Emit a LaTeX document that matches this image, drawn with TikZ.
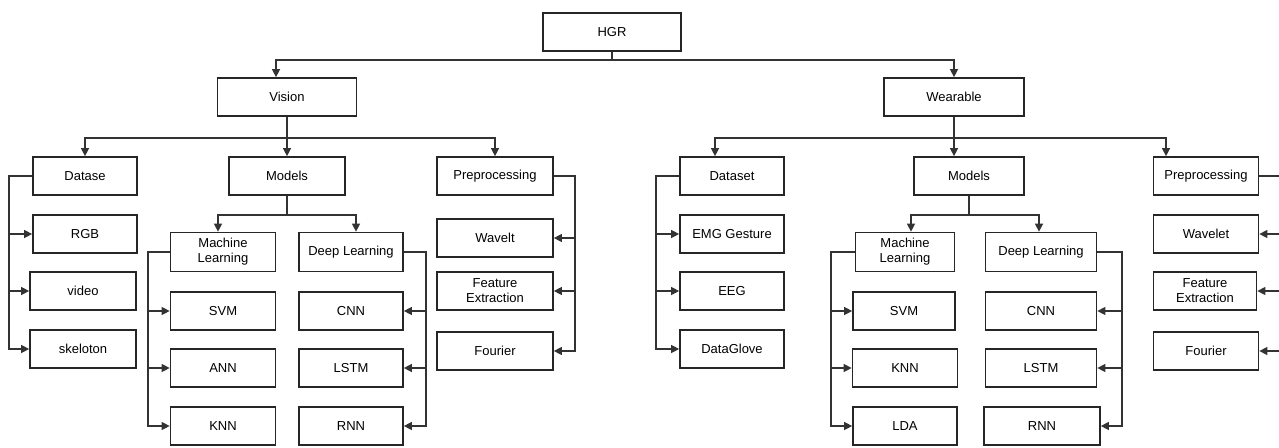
\documentclass[tikz,border=0pt]{standalone}
\usepackage{fontspec}
\setmainfont{Liberation Sans}
\usepackage{xcolor}
\usetikzlibrary{positioning, arrows.meta, calc}
\definecolor{boxline}{HTML}{262626}
\definecolor{wireline}{HTML}{333333}

\tikzset{
  box/.style={draw=boxline, line width=1.7pt, fill=white, minimum height=38pt,
              inner sep=2pt, align=center, font=\fontsize{13}{15}\selectfont},
  wire/.style={draw=wireline, line width=1.3pt},
  arr/.style={wire, -{Triangle[length=8pt, width=8pt]}}
}

\begin{document}
\begin{tikzpicture}[x=1pt, y=-1pt]
  \useasboundingbox (0,0) rectangle (1279,447);
  \fill[white] (0,0) rectangle (1279,447);
  \clip (0,0) rectangle (1279,447);

  % top levels
  \node[box, minimum width=138pt] (hgr) at (612,32) {HGR};
  \node[box, minimum width=139pt] (vision) at (287,97) {Vision};
  \node[box, minimum width=140pt] (wear) at (954,97) {Wearable};

  % vision branch
  \node[box, minimum width=104pt] (vdata) at (85,176) {Datase};
  \node[box, minimum width=116pt] (vmod) at (287,176) {Models};
  \node[box, minimum width=116pt] (vpre) at (495,176) {Preprocessing};
  \node[box, minimum width=104pt] (rgb) at (85,234) {RGB};
  \node[box, minimum width=106pt] (video) at (83,291) {video};
  \node[box, minimum width=106pt] (skel) at (83,349) {skeloton};
  \node[box, minimum width=105pt, minimum height=39pt] (vml) at (223,252) {Machine\\Learning};
  \node[box, minimum width=104pt, minimum height=39pt] (vdl) at (351,252) {Deep Learning};
  \node[box, minimum width=105pt] (vsvm) at (223,311) {SVM};
  \node[box, minimum width=105pt] (vann) at (223,368) {ANN};
  \node[box, minimum width=105pt] (vknn) at (223,426) {KNN};
  \node[box, minimum width=104pt] (vcnn) at (351,311) {CNN};
  \node[box, minimum width=104pt] (vlstm) at (351,368) {LSTM};
  \node[box, minimum width=104pt] (vrnn) at (351,426) {RNN};
  \node[box, minimum width=116pt] (vwav) at (495,238) {Wavelt};
  \node[box, minimum width=116pt] (vfe) at (495,291) {Feature\\Extraction};
  \node[box, minimum width=116pt] (vfou) at (495,351) {Fourier};

  % wearable branch
  \node[box, minimum width=104pt] (wdata) at (732,176) {Dataset};
  \node[box, minimum width=110pt] (wmod) at (969,176) {Models};
  \node[box, minimum width=105pt] (wpre) at (1206,176) {Preprocessing};
  \node[box, minimum width=104pt] (emg) at (732,234) {EMG Gesture};
  \node[box, minimum width=104pt] (eeg) at (732,291) {EEG};
  \node[box, minimum width=104pt] (glove) at (732,349) {DataGlove};
  \node[box, minimum width=99pt, minimum height=39pt] (wml) at (905,252) {Machine\\Learning};
  \node[box, minimum width=111pt, minimum height=39pt] (wdl) at (1041,252) {Deep Learning};
  \node[box, minimum width=102pt] (wsvm) at (904,311) {SVM};
  \node[box, minimum width=105pt] (wknn) at (905,368) {KNN};
  \node[box, minimum width=104pt] (wlda) at (905,426) {LDA};
  \node[box, minimum width=111pt] (wcnn) at (1041,311) {CNN};
  \node[box, minimum width=111pt] (wlstm) at (1041,368) {LSTM};
  \node[box, minimum width=116pt] (wrnn) at (1042,426) {RNN};
  \node[box, minimum width=105pt] (wwav) at (1206,234) {Wavelet};
  \node[box, minimum width=103pt] (wfe) at (1205,291) {Feature\\Extraction};
  \node[box, minimum width=105pt] (wfou) at (1206,351) {Fourier};

  % split points and buses
  \coordinate (hsplit) at (612,60);
  \coordinate (vsplit) at (287,138);
  \coordinate (wsplit) at (954,138);
  \coordinate (vmsplit) at (287,215);
  \coordinate (wmsplit) at (969,215);
  \coordinate (vdbus) at (9,349);
  \coordinate (vmlbus) at (148,426);
  \coordinate (vdlbus) at (426,426);
  \coordinate (vprebus) at (575,351);
  \coordinate (wdbus) at (656,349);
  \coordinate (wmlbus) at (831,426);
  \coordinate (wdlbus) at (1122,426);
  \coordinate (wprebus) at (1290,351);

  % tree links
  \draw[wire] (hgr.south) -- (hsplit);
  \draw[arr] (hsplit) -| ([xshift=-11pt]vision.north);
  \draw[arr] (hsplit) -| (wear.north);
  \draw[wire] (vision.south) -- (vsplit);
  \draw[arr] (vsplit) -| (vdata.north);
  \draw[arr] (vsplit) -- (vmod.north);
  \draw[arr] (vsplit) -| (vpre.north);
  \draw[wire] (wear.south) -- (wsplit);
  \draw[arr] (wsplit) -| ([xshift=-17pt]wdata.north);
  \draw[arr] (wsplit) -- (wsplit |- wmod.north);
  \draw[arr] (wsplit) -| ([xshift=-40pt]wpre.north);
  \draw[wire] (vmod.south) -- (vmsplit);
  \draw[arr] (vmsplit) -| ([xshift=-5pt]vml.north);
  \draw[arr] (vmsplit) -| ([xshift=5pt]vdl.north);
  \draw[wire] (wmod.south) -- (wmsplit);
  \draw[arr] (wmsplit) -| ([xshift=6pt]wml.north);
  \draw[arr] (wmsplit) -| ([xshift=-2pt]wdl.north);

  % bracket links
  \draw[arr] (vdata.west) -| (vdbus) -- (skel.west);
  \draw[arr] (rgb.west -| vdbus) -- (rgb.west);
  \draw[arr] (video.west -| vdbus) -- (video.west);
  \draw[arr] (vml.west) -| (vmlbus) -- (vknn.west);
  \draw[arr] (vsvm.west -| vmlbus) -- (vsvm.west);
  \draw[arr] (vann.west -| vmlbus) -- (vann.west);
  \draw[arr] (vdl.east) -| (vdlbus) -- (vrnn.east);
  \draw[arr] (vcnn.east -| vdlbus) -- (vcnn.east);
  \draw[arr] (vlstm.east -| vdlbus) -- (vlstm.east);
  \draw[arr] (vpre.east) -| (vprebus) -- (vfou.east);
  \draw[arr] (vwav.east -| vprebus) -- (vwav.east);
  \draw[arr] (vfe.east -| vprebus) -- (vfe.east);
  \draw[arr] (wdata.west) -| (wdbus) -- (glove.west);
  \draw[arr] (emg.west -| wdbus) -- (emg.west);
  \draw[arr] (eeg.west -| wdbus) -- (eeg.west);
  \draw[arr] (wml.west) -| (wmlbus) -- (wlda.west);
  \draw[arr] (wsvm.west -| wmlbus) -- (wsvm.west);
  \draw[arr] (wknn.west -| wmlbus) -- (wknn.west);
  \draw[arr] (wdl.east) -| (wdlbus) -- (wrnn.east);
  \draw[arr] (wcnn.east -| wdlbus) -- (wcnn.east);
  \draw[arr] (wlstm.east -| wdlbus) -- (wlstm.east);
  \draw[arr] (wpre.east) -| (wprebus) -- (wfou.east);
  \draw[arr] (wwav.east -| wprebus) -- (wwav.east);
  \draw[arr] (wfe.east -| wprebus) -- (wfe.east);
\end{tikzpicture}
\end{document}
